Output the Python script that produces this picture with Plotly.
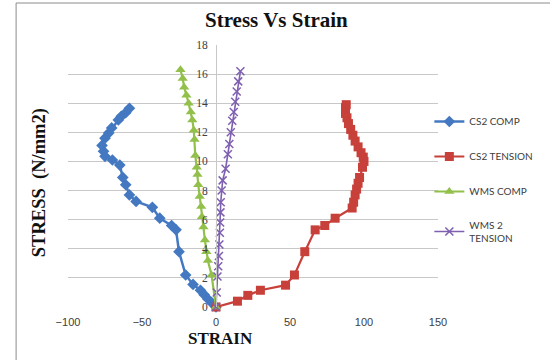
import plotly.graph_objects as go

# ---- data (strain, stress) ----
cs2_comp_strain = [0, -3, -5.5, -8, -10.5, -15.5, -20.5, -25, -27, -30, -38, -43, -54, -58.5,
                   -61, -63, -65, -70, -75, -76, -77, -75, -72.5, -70.5, -66, -64, -61, -58.5]
cs2_comp_stress = [0, 0.3, 0.55, 0.85, 1.15, 1.55, 2.2, 3.8, 5.3, 5.6, 6.1, 6.85, 7.25, 7.7,
                   8.4, 8.9, 9.75, 10.1, 10.35, 10.7, 11.1, 11.6, 11.95, 12.3, 12.85, 13.1, 13.35, 13.65]

cs2_ten_strain = [0, 14.5, 21.5, 30, 47, 53, 60, 67, 73.5, 80.5, 92, 93, 94, 95, 96, 97,
                  99, 100, 99.5, 98, 96, 94, 92.5, 91, 89.5, 88.5, 87.5, 87.5, 88]
cs2_ten_stress = [0, 0.4, 0.8, 1.15, 1.5, 2.2, 3.8, 5.3, 5.6, 6.1, 6.8, 7.2, 7.7, 8.1, 8.5, 8.9,
                  9.6, 10.0, 10.3, 10.6, 11.0, 11.4, 11.8, 12.2, 12.6, 13.0, 13.3, 13.7, 13.9]

wms_comp_strain = [0, -3, -5.5, -6.5, -7.5, -8.5, -9.5, -10, -11, -12, -12.5, -13, -14, -14.5,
                   -15, -16, -17, -18.5, -20, -21.5, -22.5, -24]
wms_comp_stress = [0, 2.2, 3.2, 3.8, 4.6, 5.5, 6.2, 6.9, 7.6, 8.4, 9.1, 9.6, 10.4, 11.5,
                   12.15, 12.85, 13.4, 14.0, 14.55, 15.1, 15.7, 16.3]

wms2_ten_strain = [0, 0.5, 1, 1.5, 2, 2.3, 2.6, 2.8, 3, 3.2, 3.8, 4.5, 6.5, 8, 9, 10, 11, 12,
                   13, 14, 15, 16.5]
wms2_ten_stress = [0, 1.0, 2.1, 2.8, 3.5, 4.3, 5.1, 5.8, 6.5, 7.2, 8.0, 8.7, 9.5, 10.5, 11.2,
                   12.0, 12.8, 13.4, 14.1, 14.8, 15.5, 16.2]

x_ticks = [-100, -50, 0, 50, 100, 150]
y_ticks = [0, 2, 4, 6, 8, 10, 12, 14, 16, 18]

BLUE = "#4479C2"
RED = "#C8403A"
GREEN = "#92C04B"
PURPLE = "#7E5FB0"

fig = go.Figure()
fig.add_trace(go.Scatter(
    x=cs2_comp_strain, y=cs2_comp_stress, mode="lines+markers", name="CS2 COMP",
    legendgroup="a", line=dict(color=BLUE, width=2.5),
    marker=dict(symbol="diamond", size=9, color=BLUE), cliponaxis=False))
fig.add_trace(go.Scatter(
    x=cs2_ten_strain, y=cs2_ten_stress, mode="lines+markers", name="CS2 TENSION",
    legendgroup="b", line=dict(color=RED, width=2.2),
    marker=dict(symbol="square", size=9, color=RED), cliponaxis=False))
fig.add_trace(go.Scatter(
    x=wms_comp_strain, y=wms_comp_stress, mode="lines+markers", name="WMS COMP",
    legendgroup="c", line=dict(color=GREEN, width=2.2),
    marker=dict(symbol="triangle-up", size=9, color=GREEN), cliponaxis=False))
fig.add_trace(go.Scatter(
    x=wms2_ten_strain, y=wms2_ten_stress, mode="lines+markers", name="WMS 2<br>TENSION",
    legendgroup="d", line=dict(color=PURPLE, width=1.6),
    marker=dict(symbol="x-thin", size=8, line=dict(color=PURPLE, width=1.5)),
    cliponaxis=False))

W, H = 550, 360
L, R, T, B = 68, 97, 45, 53
pw, ph = W - L - R, H - T - B


def px(xp):
    return (xp - L) / pw


def py(yp):
    return (H - B - yp) / ph


fig.update_layout(
    width=W, height=H,
    margin=dict(l=L, r=R, t=T, b=B),
    paper_bgcolor="white", plot_bgcolor="white",
    showlegend=True,
    legend=dict(x=px(444), y=py(107), xanchor="left", yanchor="top",
                font=dict(family="Lato", size=10, color="#404040"),
                tracegroupgap=16, bgcolor="rgba(0,0,0,0)"),
    xaxis=dict(range=[-100, 150], tickvals=x_ticks, showgrid=False, zeroline=False,
               showline=False, ticks="", tickfont=dict(family="Liberation Sans", size=11,
                                                      color="#404040"),
               ticklabelstandoff=7, fixedrange=True),
    yaxis=dict(range=[0, 18], tickvals=y_ticks, showgrid=True, gridcolor="#C8C8C8",
               gridwidth=1, zeroline=False, anchor="free", position=0.4,
               showline=True, linecolor="#C8C8C8", linewidth=1, ticks="",
               tickfont=dict(family="Liberation Serif", size=11.5, color="#404040"),
               ticklabelstandoff=6, fixedrange=True),
    shapes=[dict(type="rect", xref="paper", yref="paper",
                 x0=px(14), x1=px(600), y0=py(420), y1=py(3),
                 line=dict(color="#8C8C8C", width=1), layer="below")],
    annotations=[
        dict(text="<b>Stress Vs Strain</b>", xref="paper", yref="paper",
             x=px(285), y=py(20), showarrow=False, xanchor="center", yanchor="middle",
             font=dict(family="Liberation Serif", size=21, color="#111111")),
        dict(text="<b>STRAIN</b>", xref="paper", yref="paper",
             x=px(227), y=py(338), showarrow=False, xanchor="center", yanchor="middle",
             font=dict(family="Liberation Serif", size=17, color="#111111")),
        dict(text="<b>STRESS  (N/mm2)</b>", xref="paper", yref="paper", textangle=-90,
             x=px(38), y=py(183), showarrow=False, xanchor="center", yanchor="middle",
             font=dict(family="Liberation Serif", size=18.5, color="#111111")),
    ],
)

fig.write_html("out.html")
